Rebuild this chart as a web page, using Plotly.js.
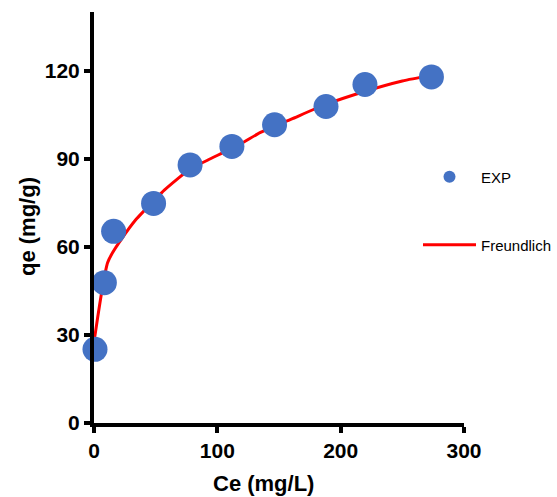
<!DOCTYPE html>
<html>
<head>
<meta charset="utf-8">
<script src="https://cdn.plot.ly/plotly-3.0.1.min.js"></script>
<style>html,body{margin:0;padding:0;background:#fff;}#chart{width:557px;height:497px;}</style>
</head>
<body>
<div id="chart"></div>
<script>
// Experimental points
var ceExp = [0.8, 8.4, 15.9, 48.3, 77.9, 111.8, 146.4, 188.1, 219.7, 273.6];
var qeExp = [25.1, 47.8, 65.3, 74.8, 87.9, 94.2, 101.6, 107.8, 115.3, 117.9];
// Freundlich curve
var ceFit = [0.5, 3, 6, 9, 11, 15, 22, 34, 40, 57, 78, 92, 119, 135, 160, 188, 220, 250, 274];
var qeFit = [29, 36, 44, 51, 54.6, 58, 62.5, 69.3, 72, 79.3, 86.5, 89.5, 95.1, 99, 103.5, 108.5, 113, 116.5, 118.5];
var xTicks = [0, 100, 200, 300];
var yTicks = [0, 30, 60, 90, 120];

var font = "'Liberation Sans', Arial, sans-serif";

var traces = [
  {
    x: ceFit, y: qeFit, mode: 'lines', name: 'Freundlich',
    line: {color: '#FF0000', width: 3, shape: 'spline', smoothing: 0.6},
    legend: 'legend2', cliponaxis: false, hoverinfo: 'skip'
  },
  {
    x: ceExp, y: qeExp, mode: 'markers', name: 'EXP',
    marker: {color: '#4472C4', size: 25},
    legend: 'legend', cliponaxis: false
  }
];

var layout = {
  width: 557, height: 497,
  margin: {l: 94, r: 93, t: 12, b: 74, autoexpand: false},
  paper_bgcolor: '#fff', plot_bgcolor: '#fff',
  font: {family: font, color: '#000'},
  showlegend: true,
  xaxis: {
    range: [0, 300], tickvals: xTicks, ticktext: xTicks.map(String),
    showgrid: false, zeroline: false, showline: true, linecolor: '#000', linewidth: 4,
    ticks: 'outside', ticklen: 6, tickwidth: 4, tickcolor: '#000',
    tickfont: {family: font, size: 21, color: '#000', weight: 'bold'},
    fixedrange: true, automargin: false
  },
  yaxis: {
    range: [0, 140], tickvals: yTicks, ticktext: yTicks.map(String),
    showgrid: false, zeroline: false, showline: true, linecolor: '#000', linewidth: 4,
    ticks: 'outside', ticklen: 6, tickwidth: 4, tickcolor: '#000',
    tickfont: {family: font, size: 21, color: '#000', weight: 'bold'},
    fixedrange: true, automargin: false
  },
  legend: {
    xref: 'container', yref: 'container',
    x: 418 / 557, y: 1 - 177 / 497, xanchor: 'left', yanchor: 'middle',
    bgcolor: 'rgba(0,0,0,0)', borderwidth: 0, itemsizing: 'constant', itemwidth: 53,
    font: {family: font, size: 15, color: '#000'}
  },
  legend2: {
    xref: 'container', yref: 'container',
    x: 418 / 557, y: 1 - 245 / 497, xanchor: 'left', yanchor: 'middle',
    bgcolor: 'rgba(0,0,0,0)', borderwidth: 0, itemwidth: 53,
    font: {family: font, size: 15, color: '#000'}
  },
  annotations: [
    {text: '<b>Ce (mg/L)</b>', xref: 'paper', yref: 'paper', x: (263 - 94) / 370, y: (423 - 483) / 411,
     xanchor: 'center', yanchor: 'middle', showarrow: false, font: {family: font, size: 22, color: '#000'}},
    {text: '<b>qe (mg/g)</b>', xref: 'paper', yref: 'paper', x: (27 - 94) / 370, y: (423 - 227) / 411,
     xanchor: 'center', yanchor: 'middle', textangle: -90, showarrow: false, font: {family: font, size: 22, color: '#000'}}
  ]
};

Plotly.newPlot('chart', traces, layout, {displayModeBar: false, staticPlot: true});
</script>
</body>
</html>
